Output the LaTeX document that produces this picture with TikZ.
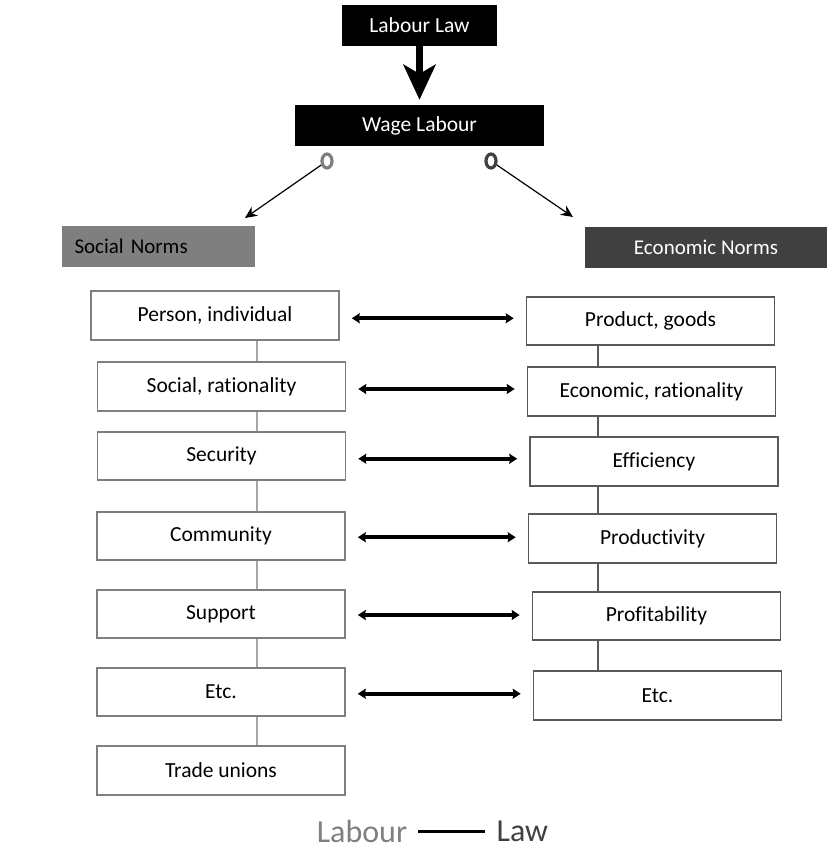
\documentclass[tikz,border=0pt]{standalone}
\usepackage{fontspec}
\setmainfont{Carlito}[Ligatures=NoCommon]
\usetikzlibrary{shapes.geometric, arrows.meta, positioning, calc}
\definecolor{mygray}{HTML}{7F7F7F}
\definecolor{mydark}{HTML}{404040}
\definecolor{myline}{HTML}{A6A6A6}
\definecolor{myedge}{HTML}{595959}

\begin{document}
\begin{tikzpicture}[x=1pt, y=-1pt,
  box/.style={rectangle, draw=mygray, line width=1.6pt, fill=white, minimum width=248pt, minimum height=48pt, inner sep=0pt, align=center, font=\fontsize{21.5}{25}\selectfont},
  rbox/.style={box, draw=myedge},
  head/.style={rectangle, fill=black, text=white, minimum height=41pt, inner sep=0pt, font=\fontsize{21.5}{25}\selectfont},
  ring/.style={ellipse, line width=3.2pt, minimum width=10pt, minimum height=14pt, inner sep=0pt},
  arrow/.style={-{Stealth[length=12pt, width=11pt]}, line width=1.2pt},
  bigarrow/.style={-{Stealth[length=35pt, width=32pt, inset=9pt]}, line width=7pt},
  both/.style={{Stealth[length=8pt, width=10pt, inset=1pt]}-{Stealth[length=8pt, width=10pt, inset=1pt]}, line width=4pt},
  link/.style={draw=myline, line width=1.2pt},
  rlink/.style={draw=myedge, line width=1.2pt}]
\useasboundingbox (0,0) rectangle (827,855);

% top of the tree
\node[head, minimum width=155pt] (law) at (419.5,25.5) {Labour Law};
\node[head, minimum width=249pt] (wage) at (419.5,125.5) {Wage Labour};
\draw[bigarrow, shorten >=5pt] (law) -- (wage);

\node[ring, draw=mygray] (lring) at (327,161) {};
\node[ring, draw=mydark] (rring) at (491,161) {};

\node[rectangle, fill=mygray, minimum height=41pt, text width=167pt, inner xsep=13pt, inner ysep=0pt, align=left, font=\fontsize{21}{25}\selectfont] (social) at (158,246.5) {Social Norms};
\node[rectangle, fill=mydark, text=white, minimum width=242pt, minimum height=41pt, inner sep=0pt, font=\fontsize{21}{25}\selectfont] (economic) at (706,247.5) {Economic Norms};

\coordinate (sl) at (245,218);
\coordinate (el) at (573,217);
\draw[arrow] (lring) -- (sl);
\draw[arrow] (rring) -- (el);

% social side
\node[box, minimum height=49pt] (person) at (215,315.5) {Person, individual};
\node[box, minimum height=49pt] (socrat) at (221.5,386.5) {Social, rationality};
\node[box] (security) at (221.5,456) {Security};
\node[box] (community) at (221,536) {Community};
\node[box] (support) at (221,614) {Support};
\node[box] (setc) at (221,692) {Etc.};
\node[box, minimum height=49pt] (unions) at (221,770.5) {Trade unions};

% economic side
\node[rbox] (product) at (650.5,321) {Product, goods};
\node[rbox, minimum height=49pt] (ecorat) at (651.5,391.5) {Economic, rationality};
\node[rbox, minimum height=49pt] (efficiency) at (654,461.5) {Efficiency};
\node[rbox, minimum height=49pt] (productivity) at (652.5,538.5) {Productivity};
\node[rbox] (profitability) at (656.5,616) {Profitability};
\node[rbox, minimum height=49pt] (eetc) at (657.5,695.5) {Etc.};

\coordinate (lx) at (257,0);
\coordinate (rx) at (598,0);
\foreach \a/\b in {person/socrat, socrat/security, security/community, community/support, support/setc, setc/unions}
  \draw[link] (\a.south -| lx) -- (\b.north -| lx);
\foreach \a/\b in {product/ecorat, ecorat/efficiency, efficiency/productivity, productivity/profitability, profitability/eetc}
  \draw[rlink] (\a.south -| rx) -- (\b.north -| rx);

\foreach \a/\b in {person/product, socrat/ecorat, security/efficiency, community/productivity, support/profitability, setc/eetc} {
  \path ($(\a.east)!0.5!(\b.west)$) coordinate (m);
  \draw[both, shorten <=12pt, shorten >=12pt] (\a.east |- m) -- (\b.west |- m);
}

% caption
\node[text=mygray, inner xsep=11pt, font=\fontsize{32}{36}\selectfont] (lab) at (362,831) {Labour};
\node[text=mydark, inner xsep=11pt, font=\fontsize{32}{36}\selectfont, right=67pt of lab] (lw) {Law};
\draw[line width=3pt] (lab) -- (lw);
\end{tikzpicture}
\end{document}
